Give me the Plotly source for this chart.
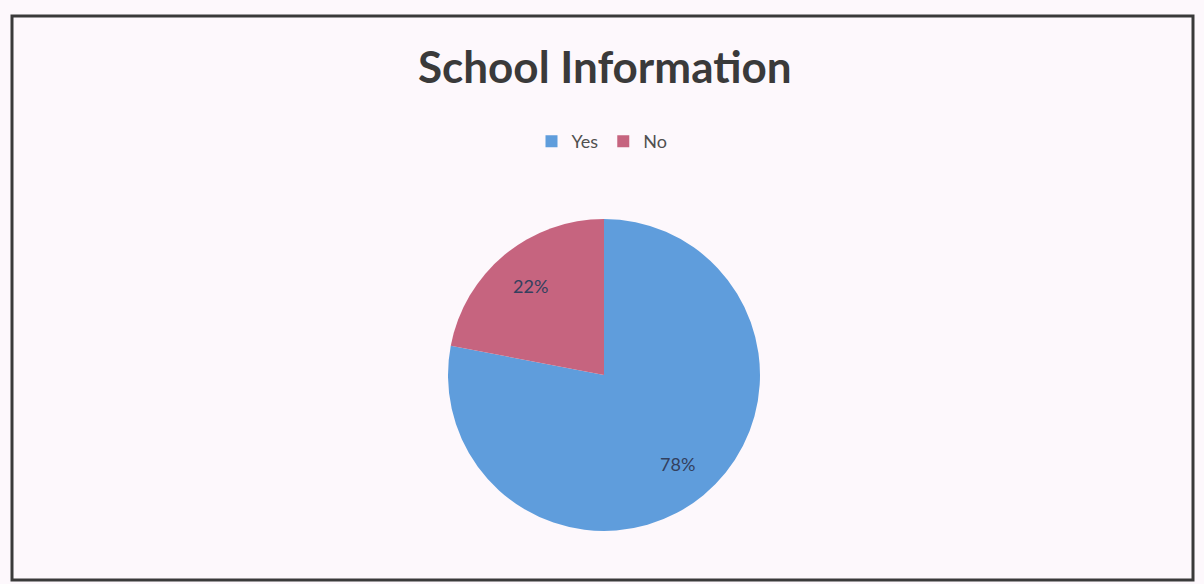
import math
import plotly.graph_objects as go

# Survey answers and their shares (percent)
labels = ["Yes", "No"]
values = [78, 22]
colors = ["#5f9ddc", "#c6647f"]

title_text = "School Information"

W, H = 1204, 584

# Pie placement in pixels
cx, cy, R = 604, 375, 156
label_radius = 0.74

fig = go.Figure(
    go.Pie(
        labels=labels,
        values=values,
        sort=False,
        direction="clockwise",
        rotation=0,
        marker=dict(colors=colors, line=dict(width=0)),
        textinfo="none",
        hoverinfo="label+percent",
        domain=dict(x=[(cx - R) / W, (cx + R) / W], y=[(H - cy - R) / H, (H - cy + R) / H]),
    )
)

# Percentage labels placed along each slice's mid-angle
annotations = []
total = sum(values)
start = 0.0
for v in values:
    frac = v / total
    mid = (start + frac / 2) * 2 * math.pi  # clockwise from 12 o'clock
    px = cx + label_radius * R * math.sin(mid)
    py = cy - label_radius * R * math.cos(mid)
    annotations.append(
        dict(
            text=f"{round(frac * 100)}%",
            x=px / W,
            y=(H - py) / H,
            xref="paper",
            yref="paper",
            xanchor="center",
            yanchor="middle",
            showarrow=False,
            font=dict(family="Lato", size=18, color="#33405e"),
        )
    )
    start += frac

annotations.append(
    dict(
        text="<b>" + title_text + "</b>",
        x=605 / W,
        y=(H - 66) / H,
        xref="paper",
        yref="paper",
        xanchor="center",
        yanchor="middle",
        showarrow=False,
        font=dict(family="Lato", size=44, color="#3a3a3a"),
    )
)

fig.update_layout(
    width=W,
    height=H,
    margin=dict(l=0, r=0, t=0, b=0),
    paper_bgcolor="#fdf8fc",
    plot_bgcolor="#fdf8fc",
    font=dict(family="Lato", color="#404040"),
    showlegend=True,
    legend=dict(
        orientation="h",
        x=0.5,
        xanchor="center",
        y=(H - 123) / H,
        yanchor="top",
        font=dict(family="Lato", size=18, color="#505050"),
        itemwidth=30,
        bgcolor="rgba(0,0,0,0)",
    ),
    annotations=annotations,
    shapes=[
        dict(
            type="rect",
            xref="paper",
            yref="paper",
            x0=12 / W,
            x1=1193 / W,
            y0=(H - 580) / H,
            y1=(H - 16) / H,
            line=dict(color="#3a3a3a", width=3),
            fillcolor="rgba(0,0,0,0)",
        )
    ],
)

fig.write_html("out.html")
